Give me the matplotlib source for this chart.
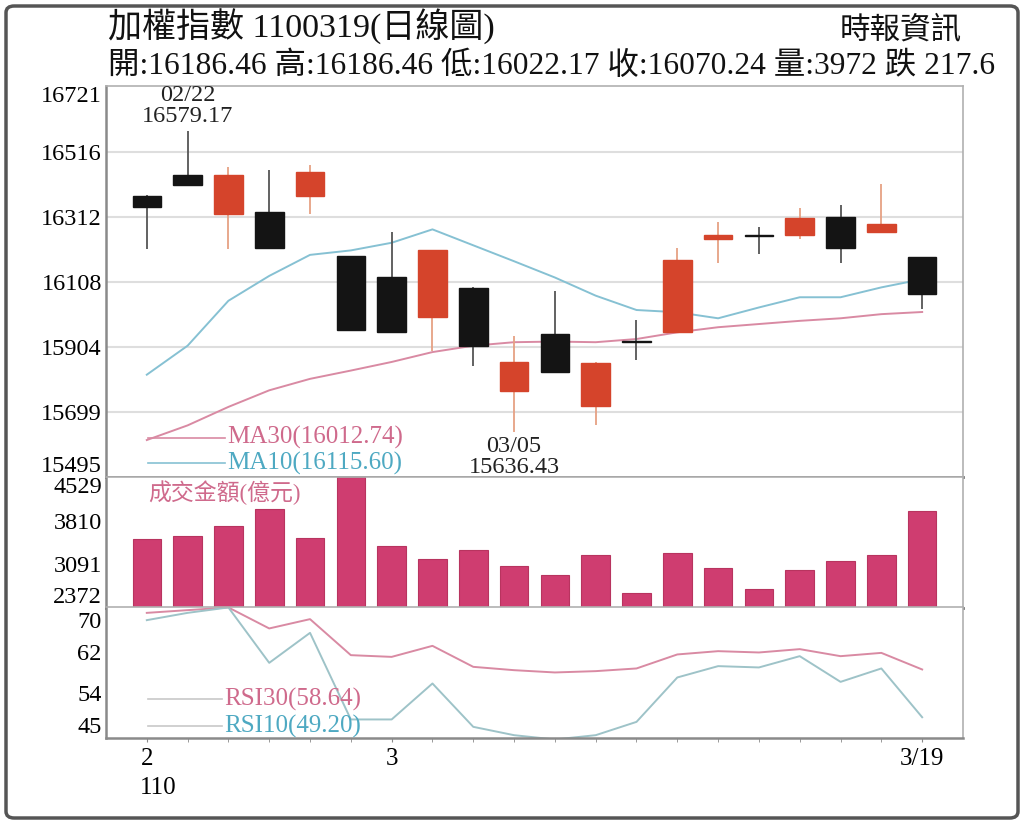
import numpy as np
import matplotlib
matplotlib.use('Agg')
import matplotlib.pyplot as plt
from matplotlib.patches import FancyBboxPatch

plt.rcParams['font.family'] = ['Liberation Serif', 'Noto Sans CJK TC']

# 加權指數 日線 (110/02/19 ~ 110/03/19)
days = ['02/19', '02/22', '02/23', '02/24', '02/25', '02/26', '03/02', '03/03', '03/04', '03/05',
        '03/08', '03/09', '03/10', '03/11', '03/12', '03/15', '03/16', '03/17', '03/18', '03/19']
open_ = [16376, 16444, 16321, 16327, 16376, 16187, 16124, 15996, 16088, 15764,
         15944, 15718, 15922, 15951, 16241, 16255, 16254, 16312, 16265, 16186.46]
high = [16380, 16579.17, 16467, 16457, 16474, 16190, 16264, 16207, 16090, 15939,
        16078, 15855, 15989, 16215, 16295, 16280, 16340, 16347, 16413, 16186.46]
low = [16210, 16409, 16210, 16212, 16319, 15957, 15949, 15889, 15843, 15636.43,
       15824, 15657, 15861, 15951, 16165, 16194, 16241, 16165, 16265, 16022.17]
close = [16342, 16410, 16442, 16212, 16451, 15957, 15949, 16207, 15907, 15856,
         15824, 15853, 15918, 16176, 16253, 16251, 16309, 16215, 16287.84, 16070.24]
ma10 = [15816, 15907, 16048, 16126, 16192, 16206, 16230, 16272, 16222, 16172,
        16121, 16064, 16019, 16012, 15993, 16027, 16059, 16059, 16090, 16115.60]
ma30 = [15611, 15657, 15715, 15767, 15803, 15829, 15856, 15887, 15907, 15918,
        15920, 15918, 15928, 15949, 15965, 15975, 15985, 15993, 16006, 16012.74]
amount = [3500, 3550, 3714, 4006, 3528, 4529, 3385, 3171, 3319, 3060,
          2907, 3248, 2616, 3275, 3027, 2672, 2990, 3138, 3248, 3972]
rsi30 = [69.83, 70.37, 70.9, 66.75, 68.59, 61.47, 61.13, 63.31, 59.16, 58.5,
         58.05, 58.31, 58.84, 61.61, 62.26, 62.0, 62.66, 61.27, 61.92, 58.64]
rsi10 = [68.39, 69.83, 70.9, 59.95, 65.88, 48.76, 48.76, 55.87, 47.3, 45.65,
         44.8, 45.65, 48.28, 57.06, 59.3, 59.04, 61.27, 56.19, 58.84, 49.20]

price_ticks = [15495, 15699, 15904, 16108, 16312, 16516, 16721]
amount_ticks = [2372, 3091, 3810, 4529]
rsi_ticks = [45, 54, 62, 70]
xtick_pos = [0, 6, 19]
xtick_labels = ['2', '3', '3/19']

c_up = '#d5442b'
c_down = '#141414'
c_ma30 = '#d98aa3'
c_ma10 = '#86c1d3'
c_bar = '#cf3d70'
c_rsi10 = '#9ec3c8'
frame = '#8a8a8a'
fs = 17.5
fs_leg = 18

x = np.arange(len(days))

fig = plt.figure(figsize=(10.24, 8.24), dpi=100)
L, W = 0.1035, 0.8369
ax1 = fig.add_axes([L, 0.4211, W, 0.4742])
ax2 = fig.add_axes([L, 0.2627, W, 0.1584])
ax3 = fig.add_axes([L, 0.1038, W, 0.1590])

for ax in (ax1, ax2, ax3):
    ax.set_xlim(-1, len(days))
    for s in ax.spines.values():
        s.set_color('#b0b0b0')
        s.set_linewidth(1.2)
    ax.spines['left'].set_color(frame)
    ax.spines['left'].set_linewidth(1.8)
    ax.tick_params(axis='y', length=0, pad=3, labelsize=fs)
    ax.tick_params(axis='x', length=0, labelbottom=False)
ax1.spines['bottom'].set_color('#777777')
ax1.spines['bottom'].set_linewidth(2)
ax2.spines['bottom'].set_color('#777777')
ax2.spines['bottom'].set_linewidth(2)
ax3.spines['bottom'].set_color(frame)
ax3.spines['bottom'].set_linewidth(1.8)

# --- price panel ---
ax1.set_ylim(price_ticks[0], price_ticks[-1])
for v in price_ticks[1:-1]:
    ax1.axhline(v, color='#dedede', lw=1.5, zorder=0)
ax1.set_yticks(price_ticks)
ax1.set_yticklabels([str(v) for v in price_ticks])
ylab = ax1.get_yticklabels()
ylab[0].set_va('bottom')
ylab[-1].set_va('top')

o = np.array(open_); c = np.array(close)
up = c > o
colors = [c_up if u else c_down for u in up]
wick_colors = ['#e6a184' if u else '#555555' for u in up]
ax1.vlines(x, low, high, colors=wick_colors, lw=1.3, zorder=2)
body_low = np.minimum(o, c)
body_h = np.maximum(np.abs(c - o), 4)
ax1.bar(x, body_h, bottom=body_low, width=0.7, color=colors,
        edgecolor=colors, linewidth=1, zorder=3)
ax1.plot(x, ma10, color=c_ma10, lw=1.4, zorder=1)
ax1.plot(x, ma30, color=c_ma30, lw=1.4, zorder=1)

hi_i = int(np.argmax(high))
lo_i = int(np.argmin(low))
ax1.annotate(f'{days[hi_i]}\n{high[hi_i]:.2f}', xy=(hi_i, high[hi_i]), xytext=(0, 3),
             textcoords='offset points', ha='center', va='bottom', fontsize=fs,
             linespacing=1.0, color='#222222')
ax1.annotate(f'{days[lo_i]}\n{low[lo_i]:.2f}', xy=(lo_i, low[lo_i]), xytext=(0, -3),
             textcoords='offset points', ha='center', va='top', fontsize=fs,
             linespacing=1.0, color='#222222', zorder=6)

ax1.plot([0.049, 0.139], [0.1006, 0.1006], transform=ax1.transAxes, color=c_ma30, lw=1.2)
ax1.text(0.142, 0.1006, f'MA30({ma30[-1]:.2f})', transform=ax1.transAxes,
         color='#cf6a8c', fontsize=fs_leg, va='center', ha='left')
ax1.plot([0.049, 0.139], [0.035, 0.035], transform=ax1.transAxes, color=c_ma10, lw=1.2)
ax1.text(0.142, 0.035, f'MA10({ma10[-1]:.2f})', transform=ax1.transAxes,
         color='#4ea9c2', fontsize=fs_leg, va='center', ha='left')

# --- amount panel ---
ax2.bar(x, amount, width=0.7, color=c_bar, edgecolor='#b8345f', linewidth=0.8,
        bottom=0, zorder=2)
ax2.set_ylim(amount_ticks[0], amount_ticks[-1])
ax2.set_yticks(amount_ticks)
ax2.set_yticklabels([str(v) for v in amount_ticks])
ylab = ax2.get_yticklabels()
ylab[0].set_va('bottom')
ylab[-1].set_va('top')
ax2.text(0.049, 0.877, '成交金額(億元)', transform=ax2.transAxes, color='#cf6a8c',
         fontsize=16.5, va='center', ha='left')

# --- RSI panel ---
ax3.set_ylim(45.0, 70.9)
ax3.plot(x, rsi30, color=c_ma30, lw=1.4, zorder=2)
ax3.plot(x, rsi10, color=c_rsi10, lw=1.4, zorder=2)
ax3.set_yticks(rsi_ticks)
ax3.set_yticklabels([str(v) for v in rsi_ticks])
ylab = ax3.get_yticklabels()
ylab[0].set_va('bottom')
ylab[-1].set_va('top')
ax3.plot([0.049, 0.135], [0.30, 0.30], transform=ax3.transAxes, color='#c8c8c8', lw=1.2)
ax3.text(0.138, 0.30, f'RSI30({rsi30[-1]:.2f})', transform=ax3.transAxes,
         color='#cf6a8c', fontsize=fs_leg, va='center', ha='left')
ax3.plot([0.049, 0.135], [0.095, 0.095], transform=ax3.transAxes, color='#c8c8c8', lw=1.2)
ax3.text(0.138, 0.095, f'RSI10({rsi10[-1]:.2f})', transform=ax3.transAxes,
         color='#4ea9c2', fontsize=fs_leg, va='center', ha='left')

ax3.set_xticks(x, minor=True)
ax3.tick_params(axis='x', which='minor', length=3, color=frame, direction='out')
ax3.set_xticks(xtick_pos)
ax3.set_xticklabels(xtick_labels)
ax3.tick_params(axis='x', which='major', length=3, color=frame, labelbottom=True,
                labelsize=fs + 0.5, pad=4)
ax3.annotate('110', xy=(0, 0), xycoords=('data', 'axes fraction'), xytext=(-5, -28),
             textcoords='offset points', ha='left', va='top', fontsize=fs + 0.5)

# --- header ---
fig.text(108 / 1024, 1 - 27 / 824, '加權指數 1100319(日線圖)', fontsize=24.5,
         va='center', ha='left', color='#111111')
fig.text(962 / 1024, 1 - 32 / 824, '時報資訊', fontsize=22, va='center', ha='right',
         color='#111111')
info = (f'開:{open_[-1]:.2f} 高:{high[-1]:.2f} 低:{low[-1]:.2f} '
        f'收:{close[-1]:.2f} 量:{amount[-1]} 跌 {close[-2] - close[-1]:.1f}')
fig.text(108 / 1024, 1 - 66 / 824, info, fontsize=22.7, va='center', ha='left',
         color='#111111')

fig.patches.append(FancyBboxPatch((6 / 1024, 6 / 824), 1012 / 1024, 812 / 824,
                                  boxstyle='round,pad=0,rounding_size=0.008',
                                  transform=fig.transFigure, fill=False,
                                  edgecolor='#555555', lw=2.5))

fig.savefig('out.png', dpi=100)
